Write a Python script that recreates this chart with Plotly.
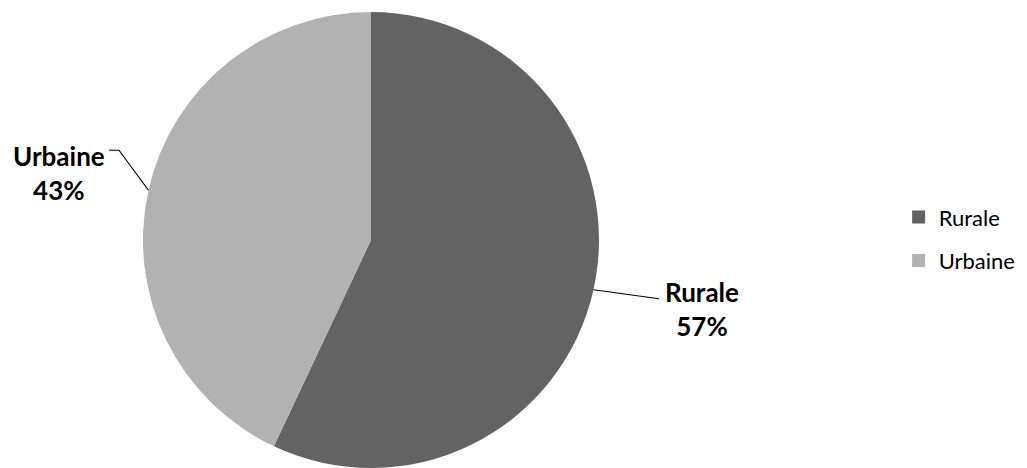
import numpy as np
import plotly.graph_objects as go

labels = ["Rurale", "Urbaine"]
values = [57, 43]
colors = ["#636363", "#b2b2b2"]

W, H = 1027, 468
cx, cy, r = 371, 240, 228  # pixel centre / radius of the pie

dom_x = [(cx - r) / W, (cx + r) / W]
dom_y = [max((H - cy - r) / H, 0), (H - cy + r) / H]

font = "Lato, Carlito, Calibri, sans-serif"

fig = go.Figure()
fig.add_trace(go.Pie(
    labels=labels, values=values, sort=False, direction="clockwise", rotation=0,
    marker=dict(colors=colors, line=dict(width=0)),
    textinfo="none", hoverinfo="label+percent",
    domain=dict(x=dom_x, y=dom_y), showlegend=False,
))
# legend entries (square swatches) matching the slices
for lab, col in zip(labels, colors):
    fig.add_trace(go.Scatter(
        x=[None], y=[None], mode="markers", name=lab, legendgroup=lab,
        marker=dict(symbol="square", size=13, color=col), showlegend=True,
    ))

tot = sum(values)
start = 0.0
shapes, annots = [], []
for lab, v in zip(labels, values):
    mid = np.deg2rad((start + v / 2) / tot * 360)
    start += v
    ex = cx + r * np.sin(mid)
    ey = cy - r * np.cos(mid)
    pct = f"{round(v / tot * 100)}%"
    if np.sin(mid) > 0:
        kx, ky = ex + 65.5, ey + 9
        path = f"M {ex/W} {1-ey/H} L {kx/W} {1-ky/H}"
        tx, ty = ex + 108, ey + 19.5
    else:
        kx, ky = ex - 29.5, ey - 40
        hx = ex - 39.5
        path = f"M {ex/W} {1-ey/H} L {kx/W} {1-ky/H} L {hx/W} {1-ky/H}"
        tx, ty = ex - 89.5, ey - 17.5
    shapes.append(dict(type="path", path=path, xref="paper", yref="paper",
                       line=dict(color="black", width=1.2)))
    annots.append(dict(x=tx / W, y=1 - ty / H, xref="paper", yref="paper",
                       text=f"<b>{lab}<br>{pct}</b>", showarrow=False,
                       xanchor="center", yanchor="middle", align="center",
                       font=dict(family=font, size=26, color="black")))

fig.update_layout(
    width=W, height=H, margin=dict(l=0, r=0, t=0, b=0, pad=0, autoexpand=False),
    paper_bgcolor="white", plot_bgcolor="white",
    xaxis=dict(visible=False, domain=[0.99, 1]), yaxis=dict(visible=False, domain=[0.99, 1]),
    shapes=shapes, annotations=annots,
    legend=dict(x=0.875, y=0.489, xanchor="left", yanchor="middle",
                font=dict(family=font, size=22, color="black"),
                itemwidth=30, tracegroupgap=12, bgcolor="rgba(0,0,0,0)"),
    showlegend=True,
)

fig.write_html("out.html", config={"displayModeBar": False},
               post_script="document.body.style.margin='0';")
